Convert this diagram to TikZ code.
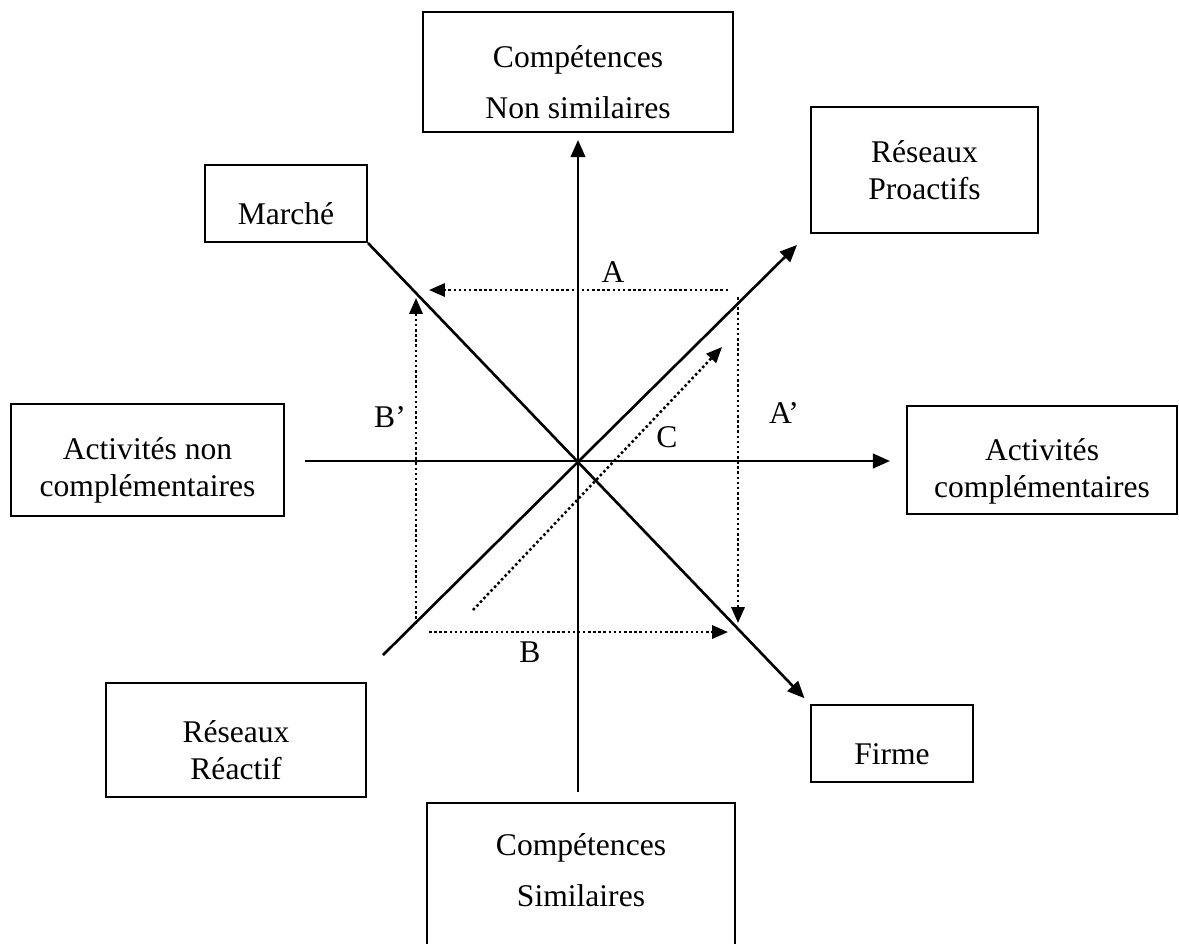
\documentclass[tikz,border=0pt]{standalone}
\usepackage{fontspec}
\setmainfont{Liberation Serif}
\usetikzlibrary{arrows.meta,positioning}
\newcommand{\cale}{\rule{0pt}{16pt}}

\begin{document}
\begin{tikzpicture}[x=0.38pt,y=-0.38pt,font=\fontsize{12}{14}\selectfont,
    boite/.style={draw,line width=0.75pt,align=center,inner sep=0pt},
    large/.style={font=\fontsize{12}{19.5}\selectfont},
    axe/.style={line width=1pt,-{Triangle[length=6.5pt,width=5.5pt]}},
    pointille/.style={line width=0.95pt,dash pattern=on 0.95pt off 1pt,-{Triangle[length=6pt,width=5pt]}},
    lettre/.style={inner sep=0pt}]
    \useasboundingbox (0,0) rectangle (1179,943);

    \node[boite,large,minimum width=117.8pt,minimum height=45.6pt] (compnon) at (578,72) {\cale Compétences\\Non similaires};
    \node[boite,minimum width=86.3pt,minimum height=47.9pt] (proactif) at (924.5,170) {Réseaux\\Proactifs};
    \node[boite,minimum width=61.6pt,minimum height=29.3pt] (marche) at (286,203.5) {\cale Marché};
    \node[boite,minimum width=103.7pt,minimum height=42.6pt] (actnon) at (147.5,460) {\cale Activités non\\complémentaires};
    \node[boite,minimum width=102.6pt,minimum height=41pt] (actcomp) at (1042,460) {\rule{0pt}{17pt}Activités\\complémentaires};
    \node[boite,minimum width=98.8pt,minimum height=43.3pt] (reactif) at (236,740) {\cale Réseaux\\Réactif};
    \node[boite,minimum width=61.6pt,minimum height=29.3pt] (firme) at (892,743.5) {\cale Firme};
    \node[boite,minimum width=117pt,minimum height=60pt,anchor=north] (compsim) at (581,802) {};
    \node[large,align=center] (compsimtxt) at (581,870) {Compétences\\Similaires};

    \coordinate (vbas) at (578,792);
    \coordinate (vhaut) at (578,140);
    \coordinate (hgauche) at (305,461);
    \coordinate (hdroite) at (890,461);
    \coordinate (reac) at (383,655);
    \coordinate (proa) at (797,245);

    \draw[axe] (vbas) -- (vhaut);
    \draw[axe] (hgauche) -- (hdroite);
    \draw[axe,shorten >=3pt] (marche.south east) -- (firme.north west);
    \draw[axe] (reac) -- (proa);

    \coordinate (a1) at (728,290);
    \coordinate (a2) at (429,290);
    \coordinate (bp1) at (416,624);
    \coordinate (bp2) at (416,298);
    \coordinate (b1) at (429,632);
    \coordinate (b2) at (728,632);
    \coordinate (ap1) at (738,297);
    \coordinate (ap2) at (738,623);
    \coordinate (c1) at (473,610);
    \coordinate (c2) at (722,347);

    \draw[pointille] (a1) -- (a2);
    \draw[pointille] (bp1) -- (bp2);
    \draw[pointille] (b1) -- (b2);
    \draw[pointille] (ap1) -- (ap2);
    \draw[pointille] (c1) -- (c2);

    \node[lettre] (la) at (613,272) {A};
    \node[lettre] (lbp) at (390,417) {B’};
    \node[lettre] (lap) at (784,413) {A’};
    \node[lettre] (lc) at (667,437) {C};
    \node[lettre] (lb) at (530,652) {B};
\end{tikzpicture}
\end{document}
